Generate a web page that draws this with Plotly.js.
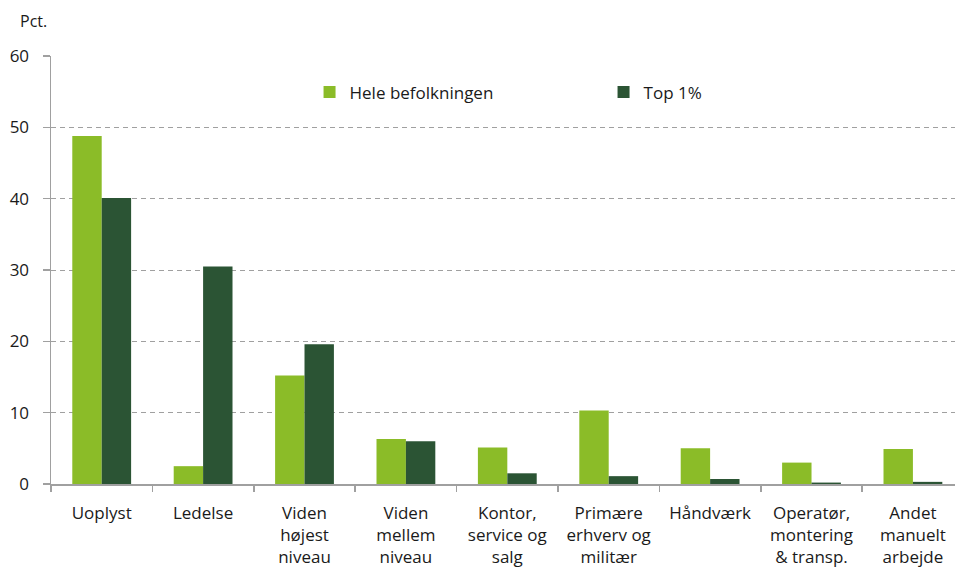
<!DOCTYPE html>
<html>
<head>
<meta charset="utf-8">
<script src="https://cdn.plot.ly/plotly-3.0.1.min.js"></script>
<style>
  html, body { margin: 0; padding: 0; background: #fff; }
  #chart { width: 955px; height: 572px; }
</style>
</head>
<body>
<div id="chart"></div>
<script>
// ── Data ──────────────────────────────────────────────────────────────────────
const CATEGORIES = [
  'Uoplyst', 'Ledelse', 'Viden<br>højest<br>niveau', 'Viden<br>mellem<br>niveau',
  'Kontor,<br>service og<br>salg', 'Primære<br>erhverv og<br>militær', 'Håndværk',
  'Operatør,<br>montering<br>& transp.', 'Andet<br>manuelt<br>arbejde',
];
const HELE_BEFOLKNINGEN = [48.8, 2.5, 15.2, 6.3, 5.1, 10.3, 5.0, 3.0, 4.9];
const TOP_1PCT          = [40.1, 30.5, 19.6, 6.0, 1.5, 1.1, 0.7, 0.2, 0.3];
const SERIES_NAMES = ['Hele befolkningen', 'Top 1%'];
const Y_TICKS = [0, 10, 20, 30, 40, 50, 60];

// ── Style ─────────────────────────────────────────────────────────────────────
const FONT = 'Open Sans, Noto Sans, sans-serif';
const LIGHT = '#8bbc28';
const DARK  = '#2b5434';
const AXIS  = '#a0a0a0';
const TXT   = '#1a1a1a';

const traces = [
  { type: 'bar', name: SERIES_NAMES[0], x: CATEGORIES, y: HELE_BEFOLKNINGEN,
    marker: { color: LIGHT, line: { width: 0 } }, hoverinfo: 'x+y' },
  { type: 'bar', name: SERIES_NAMES[1], x: CATEGORIES, y: TOP_1PCT,
    marker: { color: DARK, line: { width: 0 } }, hoverinfo: 'x+y' },
];

const layout = {
  width: 955, height: 572,
  paper_bgcolor: '#fff', plot_bgcolor: '#fff',
  font: { family: FONT, size: 17, color: TXT },
  margin: { l: 51, r: 0, t: 56, b: 88 },
  barmode: 'group', bargap: 0.42, bargroupgap: 0,
  showlegend: true,
  legend: {
    orientation: 'h', x: 0.286, y: 0.915, xanchor: 'left', yanchor: 'middle',
    bgcolor: 'rgba(0,0,0,0)', font: { family: FONT, size: 17, color: TXT },
    entrywidth: 249, entrywidthmode: 'pixels', itemwidth: 30,
  },
  xaxis: {
    type: 'category', range: [-0.5, 8.415], fixedrange: true,
    showline: true, linecolor: AXIS, linewidth: 1.5,
    ticks: 'outside', tickson: 'boundaries', ticklen: 6, tickcolor: AXIS, tickwidth: 1.5,
    tickfont: { family: FONT, size: 17, color: TXT }, tickangle: 0,
    ticklabelstandoff: 13,
    showgrid: false, automargin: false,
  },
  yaxis: {
    range: [0, 60], tickvals: Y_TICKS, fixedrange: true,
    showline: true, linecolor: AXIS, linewidth: 1.5,
    ticks: 'outside', ticklen: 7, tickcolor: AXIS, tickwidth: 1.5,
    tickfont: { family: FONT, size: 17, color: TXT },
    ticklabelstandoff: 10,
    showgrid: true, gridcolor: AXIS, griddash: '5px,4px', gridwidth: 1,
    zeroline: false, automargin: false,
  },
  annotations: [{
    xref: 'paper', yref: 'paper', x: -0.036, y: 1.082, xanchor: 'left', yanchor: 'middle',
    text: 'Pct.', showarrow: false, font: { family: FONT, size: 16, color: TXT },
  }],
};

Plotly.newPlot('chart', traces, layout, { displayModeBar: false, staticPlot: true });
</script>
</body>
</html>
